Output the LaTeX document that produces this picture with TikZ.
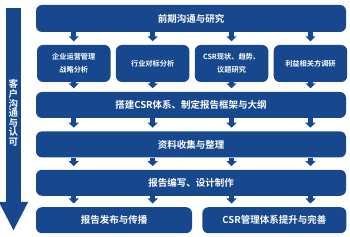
\documentclass[tikz,border=0pt]{standalone}
\usepackage{fontspec}
\newfontfamily\cjk{Noto Sans CJK SC}[BoldFont={Noto Sans CJK SC Bold}]
\usepackage{tikz}
\usetikzlibrary{arrows.meta,positioning,calc}
\definecolor{flowblue}{HTML}{17488D}
\tikzset{
  >=Stealth,
  dn/.style={-{Triangle[width=10pt,length=5pt]},draw=flowblue,line width=5pt,shorten >=3.5pt},
}

\begin{document}
\begin{tikzpicture}[x=1pt,y=-1pt,
  bar/.style={fill=flowblue,rounded corners=6pt,text=white,inner sep=0pt,
    font=\cjk\bfseries\fontsize{9.5}{11}\selectfont,minimum width=310pt,minimum height=26pt},
  sbox/.style={fill=flowblue,rounded corners=6pt,text=white,align=center,inner sep=0pt,
    font=\cjk\bfseries\fontsize{7.2}{13}\selectfont,minimum width=73.5pt,minimum height=37pt},
  bbox/.style={bar,minimum width=#1},
]
  \useasboundingbox (0,0) rectangle (350,237);

  % side arrow
  \coordinate (cTop) at (13.5,8);
  \coordinate (cEnd) at (13.5,231);
  \draw[flowblue,line width=15pt,-{Triangle[width=27pt,length=29pt]}] (cTop) -- (cEnd);
  \node[text=white,align=center,inner sep=0pt,font=\cjk\bfseries\fontsize{9.5}{9.6}\selectfont]
    (cLab) at (13.5,113) {客\\户\\沟\\通\\与\\认\\可};

  % 1 research
  \node[bar,minimum height=27pt] (s1) at (191,18.5) {前期沟通与研究};

  % 2 analysis
  \node[sbox] (a1) at (73.75,63.5) {企业运营管理\\战略分析};
  \node[sbox,right=5pt of a1] (a2) {行业对标分析};
  \node[sbox,right=5pt of a2] (a3) {CSR现状、趋势、\\议题研究};
  \node[sbox,right=5pt of a3] (a4) {利益相关方调研};

  % 3 framework
  \node[bar] (s3) at (191,105) {搭建CSR体系、制定报告框架与大纲};
  \node[bar,below=13pt of s3] (s4) {资料收集与整理};
  \node[bar,below=12pt of s4] (s5) {报告编写、设计制作};

  % 4 release
  \node[bbox=156pt,below=11pt of s5.south west,anchor=north west] (b1) {报告发布与传播};
  \node[bbox=144pt,right=10pt of b1] (b2) {CSR管理体系提升与完善};

  \foreach \i in {1,...,4}{
    \draw[dn] (s1.south -| a\i) -- (a\i.north);
    \draw[dn] (a\i.south) -- (s3.north -| a\i);
    \foreach \u/\v in {s3/s4,s4/s5}
      \draw[dn] (\u.south -| a\i) -- (\v.north -| a\i);
  }
  \foreach \i/\b in {1/b1,2/b1,3/b2,4/b2}
    \draw[dn] (s5.south -| a\i) -- (\b.north -| a\i);
\end{tikzpicture}
\end{document}
